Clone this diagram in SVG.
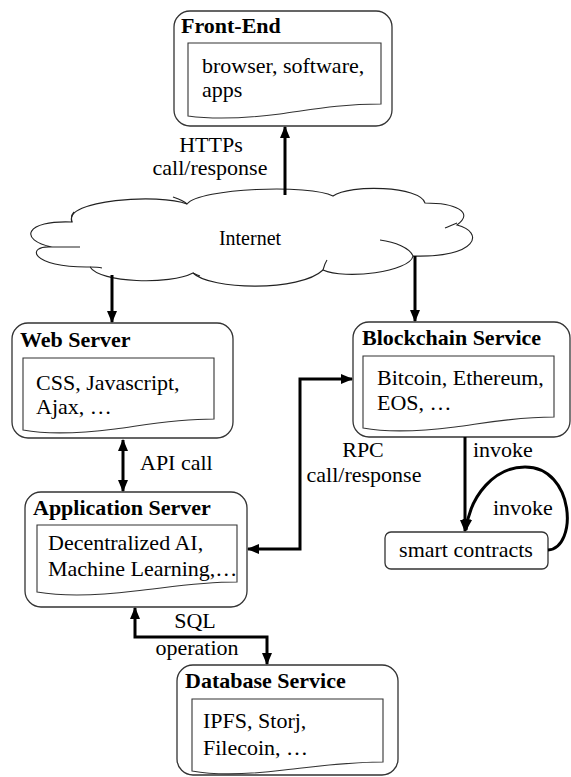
<svg xmlns="http://www.w3.org/2000/svg" width="571" height="777" viewBox="0 0 571 777">
<style>
text{font-family:"Liberation Serif","Times New Roman",serif;font-size:22px;fill:#000}
.t{font-weight:bold}
.box{fill:#fff;stroke:#333;stroke-width:1.3}
.doc{fill:#fff;stroke:#333;stroke-width:1.1}
.c{fill:none;stroke:#000;stroke-width:3}
.cl{fill:#fff;stroke:#222;stroke-width:1.1}
.ci{fill:none;stroke:#222;stroke-width:1.1}
.m{text-anchor:middle}
</style>
<defs>
<marker id="ah" markerUnits="userSpaceOnUse" markerWidth="12" markerHeight="12" refX="11" refY="6" orient="auto-start-reverse">
<path d="M0,1 L12,6 L0,11 Z" fill="#000"/>
</marker>
</defs>

<g id="internet">
<path class="cl" d="M72,222 C62,200 160,193 187,204 C200,188 310,184 333,196 C350,184 420,186 425,203 C455,203 475,212 457,225 C485,232 478,258 413,256 C410,272 345,280 323,270 C300,292 210,290 193,273 C170,285 100,283 90,267 C30,268 25,245 52,247 C18,240 25,220 72,222 Z"/>
<path class="ci" d="M72,222 C71,218 72,214 74,212 M173,197 C179,199 184,201 187,204 M445,228 C450,226 454,224 457,223 M380,240 C395,242 410,248 413,256 M323,270 C324,266 325,263 327,260 M193,273 C195,274 197,275 200,276 M90,267 C94,267 98,267 102,268 M52,247 C60,247 70,247 80,247"/>
<text x="250" y="245" class="m" style="font-size:20px">Internet</text>
</g>

<g id="frontend">
<rect class="box" x="174" y="11" width="218" height="115" rx="16"/>
<text x="181" y="33" class="t">Front-End</text>
<path class="doc" d="M188,43 H381 V104 C340,104 310,110 280,114 C240,119 210,119 188,116 Z"/>
<text x="202" y="73">browser, software,</text>
<text x="202" y="97">apps</text>
</g>

<g id="webserver">
<rect class="box" x="12" y="323" width="221" height="115" rx="16"/>
<text x="20" y="347" class="t">Web Server</text>
<path class="doc" d="M23,358 H214 V419 C175,419 145,425 115,429 C75,434 45,434 23,430 Z"/>
<text x="36" y="390">CSS, Javascript,</text>
<text x="36" y="414">Ajax, …</text>
</g>

<g id="appserver">
<rect class="box" x="25" y="492" width="222" height="115" rx="16"/>
<text x="33" y="515" class="t">Application Server</text>
<path class="doc" d="M37,525 H237 V582 C197,582 165,588 135,591 C95,596 60,596 37,592 Z"/>
<text x="48" y="550">Decentralized AI,</text>
<text x="48" y="576">Machine Learning,…</text>
</g>

<g id="blockchain">
<rect class="box" x="353" y="322" width="217" height="115" rx="16"/>
<text x="362" y="345" class="t">Blockchain Service</text>
<path class="doc" d="M363,356 H554 V417 C515,417 485,423 455,427 C415,432 385,432 363,428 Z"/>
<text x="377" y="385">Bitcoin, Ethereum,</text>
<text x="377" y="410">EOS, …</text>
</g>

<g id="smartcontracts">
<rect class="box" x="385" y="532" width="163" height="37" rx="6"/>
<text x="466" y="557" class="m">smart contracts</text>
</g>

<g id="database">
<rect class="box" x="177" y="665" width="221" height="110" rx="16"/>
<text x="185" y="688" class="t">Database Service</text>
<path class="doc" d="M192,699 H383 V762 C344,762 314,767 284,770 C244,775 214,775 192,771 Z"/>
<text x="203" y="728">IPFS, Storj,</text>
<text x="203" y="755">Filecoin, …</text>
</g>

<g id="connectors">
<line class="c" x1="285" y1="195" x2="285" y2="127" marker-end="url(#ah)"/>
<line class="c" x1="112" y1="275" x2="112" y2="322" marker-end="url(#ah)"/>
<line class="c" x1="415" y1="256" x2="415" y2="321" marker-end="url(#ah)"/>
<line class="c" x1="123" y1="440" x2="123" y2="491" marker-start="url(#ah)" marker-end="url(#ah)"/>
<path class="c" d="M248,549 H300 V379 H352" marker-start="url(#ah)" marker-end="url(#ah)"/>
<line class="c" x1="465" y1="437" x2="465" y2="531" marker-end="url(#ah)"/>
<path class="c" d="M548,550 C578,548 575,467 525,467 C495,467 470,495 466,530" marker-end="url(#ah)"/>
<path class="c" d="M135,608 V637 H267 V664" marker-start="url(#ah)" marker-end="url(#ah)"/>
<text x="211" y="152" class="m">HTTPs</text>
<text x="210" y="175" class="m">call/response</text>
<text x="140" y="470">API call</text>
<text x="363" y="457" class="m">RPC</text>
<text x="364" y="482" class="m">call/response</text>
<text x="473" y="457">invoke</text>
<text x="493" y="515">invoke</text>
<text x="195" y="628" class="m">SQL</text>
<text x="197" y="655" class="m">operation</text>
</g>
</svg>
